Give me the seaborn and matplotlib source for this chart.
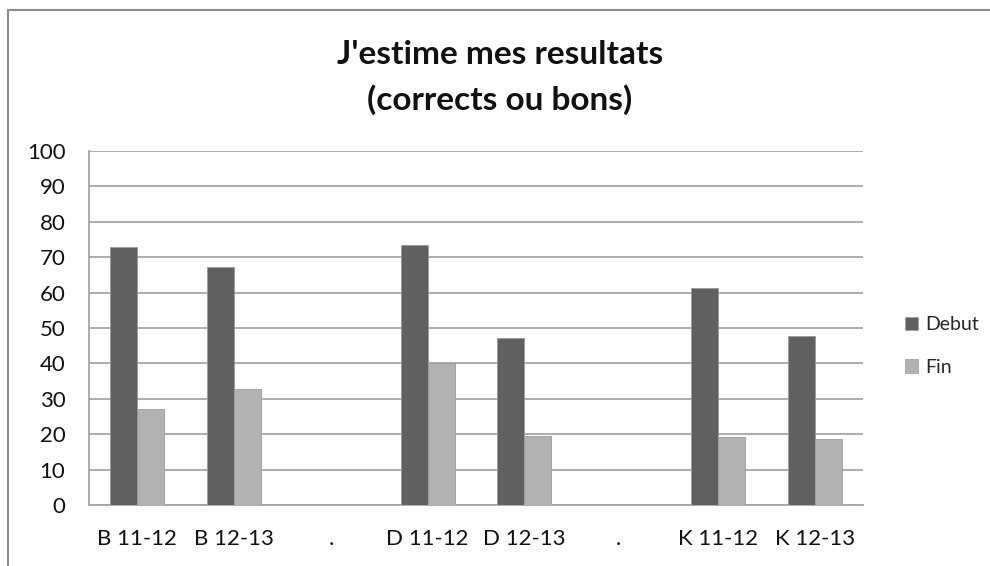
import pandas as pd
import seaborn as sns
import matplotlib.pyplot as plt
from matplotlib.patches import Rectangle, Patch

# categories (the "." slots are empty spacers between the groups)
order = ["B 11-12", "B 12-13", ".", "D 11-12", "D 12-13", ". ", "K 11-12", "K 12-13"]
classes = ["B 11-12", "B 12-13", "D 11-12", "D 12-13", "K 11-12", "K 12-13"]
debut = [73.0, 67.3, 73.4, 47.3, 61.2, 47.6]
fin = [27.0, 32.7, 40.0, 19.5, 19.1, 18.7]
yticks = list(range(0, 101, 10))

df = pd.DataFrame({
    "classe": classes * 2,
    "pct": debut + fin,
    "moment": ["Debut"] * len(classes) + ["Fin"] * len(classes),
})

colors = {"Debut": "#606060", "Fin": "#b2b2b2"}

sns.set_style("white")
plt.rcParams["font.family"] = ["Lato", "DejaVu Sans"]

fig = plt.figure(figsize=(9.9, 5.66), dpi=100)
ax = fig.add_axes([89 / 990, 61 / 566, 774 / 990, 354 / 566])

sns.barplot(data=df, x="classe", y="pct", hue="moment", order=order,
            hue_order=["Debut", "Fin"], palette=colors, width=0.56,
            edgecolor="#9a9a9a", linewidth=0.6, legend=False, ax=ax, zorder=3)

ax.set_ylim(0, 100)
ax.set_yticks(yticks)
ax.set_yticklabels([str(t) for t in yticks], fontsize=16, color="#111111")
ax.tick_params(axis="x", labelsize=16, colors="#111111", length=0, pad=17)
ax.tick_params(axis="y", length=0, pad=17)
ax.set_xlabel("")
ax.set_ylabel("")
ax.grid(axis="y", color="#a6a6a6", linewidth=1.3, zorder=0)
ax.set_axisbelow(True)
for side in ["top", "right"]:
    ax.spines[side].set_visible(False)
for side in ["left", "bottom"]:
    ax.spines[side].set_color("#a6a6a6")
    ax.spines[side].set_linewidth(1.3)

fig.text(0.505, 1 - 54 / 566, "J'estime mes resultats", ha="center", va="center",
         fontsize=24, fontweight="bold", color="#111111")
fig.text(0.505, 1 - 100 / 566, "(corrects ou bons)", ha="center", va="center",
         fontsize=24, fontweight="bold", color="#111111")

handles = [Patch(facecolor=colors[k], edgecolor="#9a9a9a", linewidth=0.5) for k in ["Debut", "Fin"]]
fig.legend(handles, ["Debut", "Fin"], loc="center left",
           bbox_to_anchor=(887 / 990, 1 - 346 / 566), frameon=False, fontsize=14,
           handlelength=0.7, handleheight=0.7, handletextpad=0.35, labelspacing=1.3)

# outer chart frame
fig.patches.append(Rectangle((8 / 990, -0.1), 1.2, 1.1 - 10 / 566, transform=fig.transFigure,
                             fill=False, edgecolor="#8c8c8c", linewidth=1.5))

fig.savefig("out.png", dpi=100)
